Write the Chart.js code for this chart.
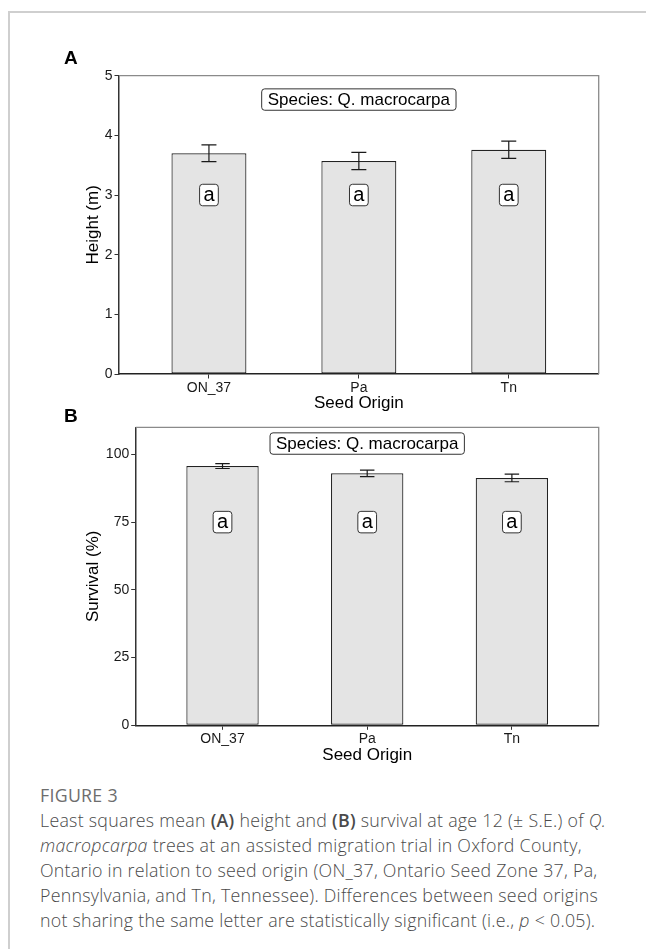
<!DOCTYPE html>
<html><head><meta charset="utf-8">
<script src="https://cdn.jsdelivr.net/npm/chart.js@4/dist/chart.umd.min.js"></script>
<style>
html,body{margin:0;padding:0;background:#fff;width:646px;height:949px;overflow:hidden;}
#frameTop{position:absolute;left:8px;top:11px;width:638px;height:0;border-top:2px solid #cfcfcf;}
#frameLeft{position:absolute;left:8px;top:11px;width:0;height:938px;border-left:2px solid #cfcfcf;}
canvas{position:absolute;left:0;}
#ca{top:0;}
#cb{top:400px;}
.panel{position:absolute;font:bold 19px "Liberation Sans",Arial,sans-serif;line-height:19px;color:#000;}
#caption{position:absolute;left:40px;top:783px;font-family:"Open Sans",sans-serif;font-weight:300;color:#4a4a4a;white-space:nowrap;}
#caption .fig{font-size:13.5px;line-height:25px;color:#6d6d6d;font-weight:400;letter-spacing:0;}
#caption .ln{font-size:17.8px;line-height:25px;display:block;letter-spacing:0.27px;}
#caption b{font-weight:600;}
</style></head>
<body>
<div id="frameTop"></div><div id="frameLeft"></div>
<canvas id="ca" width="646" height="430"></canvas>
<canvas id="cb" width="646" height="370"></canvas>
<div class="panel" style="left:64px;top:48px;">A</div>
<div class="panel" style="left:64px;top:406px;">B</div>
<div id="caption">
<span class="ln fig">FIGURE 3</span>
<span class="ln">Least squares mean <b>(A)</b> height and <b>(B)</b> survival at age 12 (± S.E.) of <i>Q.</i></span>
<span class="ln"><i>macropcarpa</i> trees at an assisted migration trial in Oxford County,</span>
<span class="ln">Ontario in relation to seed origin (ON_37, Ontario Seed Zone 37, Pa,</span>
<span class="ln">Pennsylvania, and Tn, Tennessee). Differences between seed origins</span>
<span class="ln">not sharing the same letter are statistically significant (i.e., <i>p</i> &lt; 0.05).</span>
</div>
<script>
// ---- data ----
const categories = ['ON_37', 'Pa', 'Tn'];
const categoryPos = [1, 2, 3];
const heightMean = [3.70, 3.57, 3.76];
const heightSE = [0.14, 0.145, 0.145];
const survivalMean = [95.7, 93.0, 91.3];
const survivalSE = [0.9, 1.2, 1.4];
const heightLetters = ['a', 'a', 'a'];
const survivalLetters = ['a', 'a', 'a'];
const heightTicks = [0, 1, 2, 3, 4, 5];
const survivalTicks = [0, 25, 50, 75, 100];
const speciesLabel = 'Species: Q. macrocarpa';
const heightLetterY = 3;
const survivalLetterY = 75;
const heightSpeciesY = 4.6;
const survivalSpeciesY = 104;

const FONT = '"Liberation Sans", Arial, sans-serif';

function roundRect(ctx, x, y, w, h, r) {
  ctx.beginPath();
  ctx.moveTo(x + r, y);
  ctx.lineTo(x + w - r, y); ctx.arcTo(x + w, y, x + w, y + r, r);
  ctx.lineTo(x + w, y + h - r); ctx.arcTo(x + w, y + h, x + w - r, y + h, r);
  ctx.lineTo(x + r, y + h); ctx.arcTo(x, y + h, x, y + h - r, r);
  ctx.lineTo(x, y + r); ctx.arcTo(x, y, x + r, y, r);
  ctx.closePath();
}
function drawLabel(ctx, text, cx, cy, size, padX, h, baseOff) {
  ctx.font = size + 'px ' + FONT;
  const tw = ctx.measureText(text).width;
  const w = tw + 2 * padX;
  roundRect(ctx, cx - w / 2, cy - h / 2, w, h, 3);
  ctx.fillStyle = '#fff'; ctx.fill();
  ctx.strokeStyle = '#333'; ctx.lineWidth = 1; ctx.stroke();
  ctx.fillStyle = '#000'; ctx.textAlign = 'center'; ctx.textBaseline = 'alphabetic';
  ctx.fillText(text, cx, cy + h / 2 - baseOff);
}

const decor = {
  id: 'decor',
  afterDatasetsDraw(chart, args, o) {
    const { ctx, chartArea: a, scales: { x, y } } = chart;
    ctx.save();
    ctx.strokeStyle = '#8a8a8a'; ctx.lineWidth = 1.3;
    ctx.beginPath(); ctx.moveTo(a.left, a.top); ctx.lineTo(a.right, a.top); ctx.lineTo(a.right, a.bottom); ctx.stroke();
    ctx.strokeStyle = '#1a1a1a'; ctx.lineWidth = 1.2;
    o.mean.forEach((m, i) => {
      const p = o.pos[i];
      const px = x.getPixelForValue(p);
      const half = (x.getPixelForValue(p + 0.05) - x.getPixelForValue(p - 0.05)) / 2;
      const yt = y.getPixelForValue(m + o.se[i]), yb = y.getPixelForValue(m - o.se[i]);
      ctx.beginPath();
      ctx.moveTo(px, yt); ctx.lineTo(px, yb);
      ctx.moveTo(px - half, yt); ctx.lineTo(px + half, yt);
      ctx.moveTo(px - half, yb); ctx.lineTo(px + half, yb);
      ctx.stroke();
    });
    o.letters.forEach((t, i) => {
      drawLabel(ctx, t, x.getPixelForValue(o.pos[i]), y.getPixelForValue(o.letterY), 20, 3.8, 21.5, 4.5);
    });
    const mid = (o.pos[0] + o.pos[o.pos.length - 1]) / 2;
    drawLabel(ctx, o.species, x.getPixelForValue(mid), y.getPixelForValue(o.speciesY), 17, 6, 21.4, 5);
    ctx.restore();
  }
};

function makeChart(id, mean, se, letters, ticks, ymax, yTitle, letterY, speciesY, yWidth, pad) {
  return new Chart(document.getElementById(id), {
    type: 'bar',
    data: {
      datasets: [{
        data: categoryPos.map((p, i) => ({ x: p, y: mean[i] })),
        backgroundColor: '#e4e4e4',
        borderColor: '#222',
        borderWidth: 1.2,
        borderSkipped: false,
        categoryPercentage: 1,
        barPercentage: 0.5
      }]
    },
    options: {
      responsive: false,
      animation: false,
      devicePixelRatio: 1,
      layout: { padding: pad },
      plugins: {
        legend: { display: false }, tooltip: { enabled: false },
        decor: { mean, se, pos: categoryPos, letters, letterY, speciesY, species: speciesLabel }
      },
      scales: {
        x: {
          type: 'linear', min: 0.4, max: 3.6, offset: false,
          afterBuildTicks: s => { s.ticks = categoryPos.map(v => ({ value: v })); },
          afterFit: s => { s.height = 40; },
          ticks: {
            autoSkip: false, maxRotation: 0, padding: 1, color: '#1a1a1a',
            font: { family: FONT, size: 14 },
            callback: v => { const k = categoryPos.indexOf(v); return k >= 0 ? categories[k] : ''; }
          },
          grid: { display: true, offset: false, drawOnChartArea: false, drawTicks: true, tickLength: 4.5, tickColor: '#333', tickWidth: 1 },
          border: { display: true, color: '#222', width: 1.5 },
          title: { display: true, text: 'Seed Origin', color: '#000', font: { family: FONT, size: 17 }, padding: { top: 0, bottom: 0 } }
        },
        y: {
          type: 'linear', min: 0, max: ymax,
          afterBuildTicks: s => { s.ticks = ticks.map(v => ({ value: v })); },
          afterFit: s => { s.width = yWidth; },
          ticks: { color: '#1a1a1a', padding: 2, font: { family: FONT, size: 14 } },
          grid: { display: true, offset: false, drawOnChartArea: false, drawTicks: true, tickLength: 4.5, tickColor: '#333', tickWidth: 1 },
          border: { display: true, color: '#333', width: 1.5 },
          title: { display: true, text: yTitle, color: '#000', font: { family: FONT, size: 17 }, padding: { top: 4, bottom: 0 } }
        }
      }
    },
    plugins: [decor]
  });
}

makeChart('ca', heightMean, heightSE, heightLetters, heightTicks, 5, 'Height (m)', heightLetterY, heightSpeciesY, 40,
  { top: 75.7, right: 47.3, bottom: 16, left: 79 });
makeChart('cb', survivalMean, survivalSE, survivalLetters, survivalTicks, 110, 'Survival (%)', survivalLetterY, survivalSpeciesY, 56.7,
  { top: 27.3, right: 47.3, bottom: 4.7, left: 79 });
</script>
</body></html>
